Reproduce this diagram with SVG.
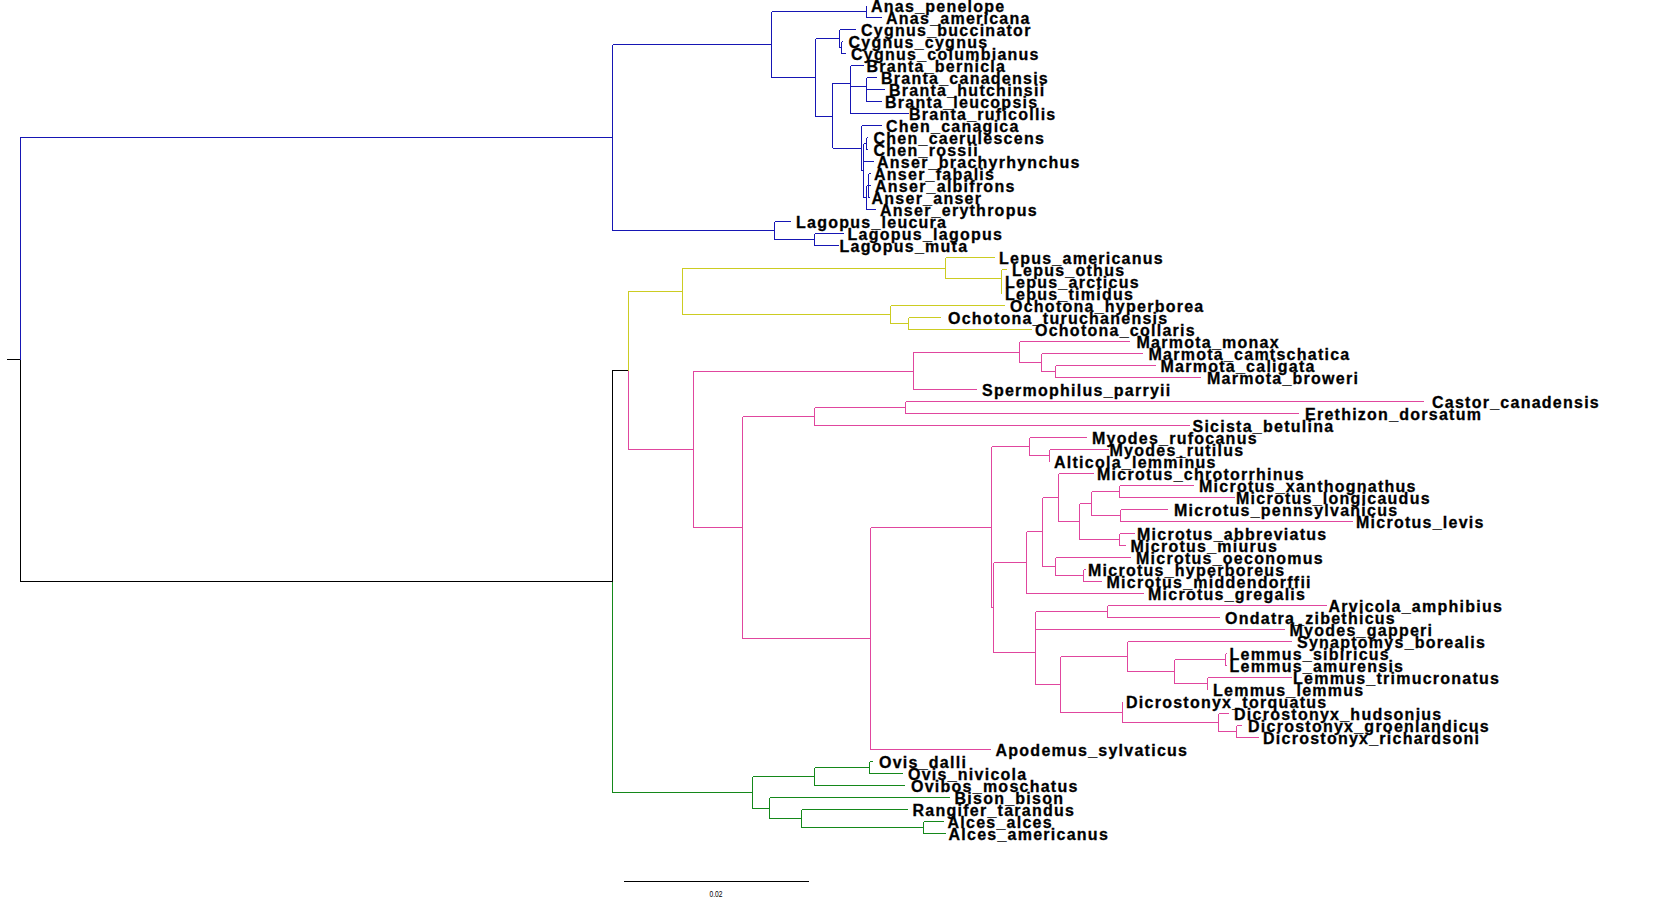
<svg xmlns="http://www.w3.org/2000/svg" width="1678" height="898" viewBox="0 0 1678 898">
<style>
  .edge{fill:none;stroke-width:1;shape-rendering:crispEdges}
  .blk{stroke:#000}
  .blu{stroke:#1616b4}
  .yel{stroke:#cccc22}
  .pnk{stroke:#e0469e}
  .grn{stroke:#14881a}
  .tip text{font-family:"Liberation Sans",Arial,sans-serif;font-weight:bold;font-size:16px;letter-spacing:1.25px;fill:#000;stroke:#000;stroke-width:0.3px}
  .scale text{font-family:"Liberation Sans",Arial,sans-serif;font-size:9px;fill:#000}
</style>
<rect width="1678" height="898" fill="#fff"/>
<g id="connectors">
  <path class="edge blk" d="M6.5 359.5 H20.5 M20.5 359.5 V581.5 H612.5 M612.5 581.5 V370.5 H628.5"/>
  <!-- birds -->
  <path class="edge blu" d="M20.5 359.5 V137.5 H612.5 M612.5 44.5 V230.5
    M612.5 44.5 H771.5 M771.5 11.5 V77.5
    M771.5 11.5 H866.5 M866.5 5.5 V17.5 H881.5
    M771.5 77.5 H815.5 M815.5 38.5 V116.5
    M815.5 38.5 H839.5 M839.5 29.5 V47.5 M839.5 29.5 H856
    M839.5 47.5 H841.5 M841.5 41.5 V53.5 M841.5 41.5 H843 M841.5 53.5 H845.5
    M815.5 116.5 H832.5 M832.5 83 V148
    M832.5 83 H850.5 M850.5 65.5 V113.5 M850.5 65.5 H863.5 M850.5 86.5 H866.5 M850.5 113.5 H908.5
    M866.5 77.5 V101.5 M866.5 77.5 H876.5 M866.5 89.5 H885 M866.5 101.5 H881.5
    M832.5 148 H861.5 M861.5 125.5 V170.5 M861.5 125.5 H881.5
    M861.5 170.5 H863.5 M863.5 143.5 V197.5 M863.5 143.5 H866.5 M866.5 137.5 V149.5 M866.5 137.5 H868 M866.5 149.5 H868
    M863.5 161.5 H873.5 M863.5 197.5 H866.5 M866.5 185.5 V209.5 M866.5 209.5 H876
    M866.5 185.5 H868.5 M868.5 173.5 V197.5 M868.5 173.5 H871 M868.5 185.5 H871 M868.5 197.5 H870
    M612.5 230.5 H774.5 M774.5 221.5 V239.5 M774.5 221.5 H790.5
    M774.5 239.5 H814.5 M814.5 233.5 V245.5 M814.5 233.5 H843.5 M814.5 245.5 H838.5"/>
  <!-- lagomorphs -->
  <path class="edge yel" d="M628.5 370.5 V291.5 H682.5 M682.5 268 V314.5
    M682.5 268 H945.5 M945.5 257.5 V278.5 M945.5 257.5 H994.5 M945.5 278.5 H1001.5
    M1001.5 269.5 V293.5 M1001.5 269.5 H1006.5
    M682.5 314.5 H890.5 M890.5 305.5 V323.5 M890.5 305.5 H1004.5 M890.5 323.5 H908.5
    M908.5 317.5 V329.5 M908.5 317.5 H941 M908.5 329.5 H1032"/>
  <!-- rodents -->
  <path class="edge pnk" d="M628.5 370.5 V449 H693.5 M693.5 371 V527.5
    M693.5 371 H913.5 M913.5 352 V389.5 M913.5 389.5 H976.5
    M913.5 352 H1019.5 M1019.5 341.5 V362.5 M1019.5 341.5 H1129.5
    M1019.5 362.5 H1041.5 M1041.5 353.5 V371.5 M1041.5 353.5 H1142.5
    M1041.5 371.5 H1055.5 M1055.5 365.5 V377.5 M1055.5 365.5 H1155.5 M1055.5 377.5 H1201
    M693.5 527.5 H742.5 M742.5 416.5 V638.5
    M742.5 416.5 H814.5 M814.5 407.5 V425.5 M814.5 425.5 H1190
    M814.5 407.5 H905.5 M905.5 401.5 V413.5 M905.5 401.5 H1423.5 M905.5 413.5 H1299
    M742.5 638.5 H870.5 M870.5 527.5 V749.5 M870.5 749.5 H990.5
    M870.5 527.5 H991.5 M991.5 446.5 V607.5
    M991.5 446.5 H1029.5 M1029.5 437.5 V455.5 M1029.5 437.5 H1086.5
    M1029.5 455.5 H1049.5 M1049.5 449.5 V461.5 M1049.5 449.5 H1109
    M991.5 607.5 H993.5 M993.5 562.5 V652.5
    M993.5 562.5 H1026.5 M1026.5 531.5 V593.5 M1026.5 593.5 H1144
    M1026.5 531.5 H1042.5 M1042.5 497.5 V566.5
    M1042.5 497.5 H1058.5 M1058.5 473.5 V521.5 M1058.5 473.5 H1094
    M1058.5 521.5 H1079.5 M1079.5 503.5 V539.5
    M1079.5 503.5 H1091.5 M1091.5 491.5 V515.5
    M1091.5 491.5 H1119.5 M1119.5 485.5 V497.5 M1119.5 485.5 H1194 M1119.5 497.5 H1234.5
    M1091.5 515.5 H1120.5 M1120.5 509.5 V521.5 M1120.5 509.5 H1168 M1120.5 521.5 H1353
    M1079.5 539.5 H1119.5 M1119.5 533.5 V545.5 M1119.5 533.5 H1135 M1119.5 545.5 H1125.5
    M1042.5 566.5 H1055.5 M1055.5 557.5 V575.5 M1055.5 557.5 H1131
    M1055.5 575.5 H1083.5 M1083.5 569.5 V581.5 M1083.5 569.5 H1086 M1083.5 581.5 H1101.5
    M993.5 652.5 H1035.5 M1035.5 611.5 V684.5
    M1035.5 611.5 H1107.5 M1107.5 605.5 V617.5 M1107.5 605.5 H1327 M1107.5 617.5 H1220
    M1035.5 629.5 H1284.5
    M1035.5 684.5 H1060.5 M1060.5 656.5 V712.5
    M1060.5 656.5 H1127.5 M1127.5 641.5 V671.5 M1127.5 641.5 H1292
    M1127.5 671.5 H1174.5 M1174.5 659.5 V683.5
    M1174.5 659.5 H1225.5 M1225.5 653.5 V665.5 M1225.5 653.5 H1227 M1225.5 665.5 H1227
    M1174.5 683.5 H1207.5 M1207.5 677.5 V689.5 M1207.5 677.5 H1292
    M1060.5 712.5 H1122.5 M1122.5 701.5 V722.5
    M1122.5 722.5 H1218.5 M1218.5 713.5 V731.5 M1218.5 713.5 H1229
    M1218.5 731.5 H1236.5 M1236.5 725.5 V737.5 M1236.5 725.5 H1242 M1236.5 737.5 H1258.5"/>
  <!-- ungulates -->
  <path class="edge grn" d="M612.5 581.5 V792.5 H752.5 M752.5 776.5 V808.5
    M752.5 776.5 H814.5 M814.5 767.5 V785.5 M814.5 785.5 H905
    M814.5 767.5 H869.5 M869.5 761.5 V773.5 M869.5 761.5 H873 M869.5 773.5 H903
    M752.5 808.5 H769.5 M769.5 797.5 V818.5 M769.5 797.5 H949.5
    M769.5 818.5 H801.5 M801.5 809.5 V827.5 M801.5 809.5 H908
    M801.5 827.5 H923.5 M923.5 821.5 V833.5 M923.5 821.5 H943.5 M923.5 833.5 H946"/>
</g>
<g class="tip">
  <g id="anas-penelope"><text x="871" y="12">Anas_penelope</text></g>
  <g id="anas-americana"><text x="886" y="24">Anas_americana</text></g>
  <g id="cygnus-buccinator"><text x="861" y="36">Cygnus_buccinator</text></g>
  <g id="cygnus-cygnus"><text x="848.5" y="48">Cygnus_cygnus</text></g>
  <g id="cygnus-columbianus"><text x="851" y="60">Cygnus_columbianus</text></g>
  <g id="branta-bernicla"><text x="866.5" y="72">Branta_bernicla</text></g>
  <g id="branta-canadensis"><text x="881" y="84">Branta_canadensis</text></g>
  <g id="branta-hutchinsii"><text x="889" y="96">Branta_hutchinsii</text></g>
  <g id="branta-leucopsis"><text x="885" y="108">Branta_leucopsis</text></g>
  <g id="branta-ruficollis"><text x="909" y="120">Branta_ruficollis</text></g>
  <g id="chen-canagica"><text x="886" y="132">Chen_canagica</text></g>
  <g id="chen-caerulescens"><text x="873.5" y="144">Chen_caerulescens</text></g>
  <g id="chen-rossii"><text x="873.5" y="156">Chen_rossii</text></g>
  <g id="anser-brachyrhynchus"><text x="877" y="168">Anser_brachyrhynchus</text></g>
  <g id="anser-fabalis"><text x="874" y="180">Anser_fabalis</text></g>
  <g id="anser-albifrons"><text x="875" y="192">Anser_albifrons</text></g>
  <g id="anser-anser"><text x="871.5" y="204">Anser_anser</text></g>
  <g id="anser-erythropus"><text x="880" y="216">Anser_erythropus</text></g>
  <g id="lagopus-leucura"><text x="796" y="228">Lagopus_leucura</text></g>
  <g id="lagopus-lagopus"><text x="847.5" y="240">Lagopus_lagopus</text></g>
  <g id="lagopus-muta"><text x="839.5" y="252">Lagopus_muta</text></g>
  <g id="lepus-americanus"><text x="999" y="264">Lepus_americanus</text></g>
  <g id="lepus-othus"><text x="1012" y="276">Lepus_othus</text></g>
  <g id="lepus-arcticus"><text x="1005" y="288">Lepus_arcticus</text></g>
  <g id="lepus-timidus"><text x="1005" y="300">Lepus_timidus</text></g>
  <g id="ochotona-hyperborea"><text x="1010" y="312">Ochotona_hyperborea</text></g>
  <g id="ochotona-turuchanensis"><text x="948" y="324">Ochotona_turuchanensis</text></g>
  <g id="ochotona-collaris"><text x="1035" y="336">Ochotona_collaris</text></g>
  <g id="marmota-monax"><text x="1136.5" y="348">Marmota_monax</text></g>
  <g id="marmota-camtschatica"><text x="1148.5" y="360">Marmota_camtschatica</text></g>
  <g id="marmota-caligata"><text x="1160.5" y="372">Marmota_caligata</text></g>
  <g id="marmota-broweri"><text x="1207" y="384">Marmota_broweri</text></g>
  <g id="spermophilus-parryii"><text x="982" y="396">Spermophilus_parryii</text></g>
  <g id="castor-canadensis"><text x="1432" y="408">Castor_canadensis</text></g>
  <g id="erethizon-dorsatum"><text x="1305" y="420">Erethizon_dorsatum</text></g>
  <g id="sicista-betulina"><text x="1192.5" y="432">Sicista_betulina</text></g>
  <g id="myodes-rufocanus"><text x="1092" y="444">Myodes_rufocanus</text></g>
  <g id="myodes-rutilus"><text x="1109.5" y="456">Myodes_rutilus</text></g>
  <g id="alticola-lemminus"><text x="1054" y="468">Alticola_lemminus</text></g>
  <g id="microtus-chrotorrhinus"><text x="1097" y="480">Microtus_chrotorrhinus</text></g>
  <g id="microtus-xanthognathus"><text x="1199" y="492">Microtus_xanthognathus</text></g>
  <g id="microtus-longicaudus"><text x="1236" y="504">Microtus_longicaudus</text></g>
  <g id="microtus-pennsylvanicus"><text x="1174" y="516">Microtus_pennsylvanicus</text></g>
  <g id="microtus-levis"><text x="1356" y="528">Microtus_levis</text></g>
  <g id="microtus-abbreviatus"><text x="1137" y="540">Microtus_abbreviatus</text></g>
  <g id="microtus-miurus"><text x="1130.5" y="552">Microtus_miurus</text></g>
  <g id="microtus-oeconomus"><text x="1136" y="564">Microtus_oeconomus</text></g>
  <g id="microtus-hyperboreus"><text x="1088" y="576">Microtus_hyperboreus</text></g>
  <g id="microtus-middendorffii"><text x="1106.5" y="588">Microtus_middendorffii</text></g>
  <g id="microtus-gregalis"><text x="1148" y="600">Microtus_gregalis</text></g>
  <g id="arvicola-amphibius"><text x="1328.5" y="612">Arvicola_amphibius</text></g>
  <g id="ondatra-zibethicus"><text x="1225" y="624">Ondatra_zibethicus</text></g>
  <g id="myodes-gapperi"><text x="1289.5" y="636">Myodes_gapperi</text></g>
  <g id="synaptomys-borealis"><text x="1297" y="648">Synaptomys_borealis</text></g>
  <g id="lemmus-sibiricus"><text x="1229.5" y="660">Lemmus_sibiricus</text></g>
  <g id="lemmus-amurensis"><text x="1229.5" y="672">Lemmus_amurensis</text></g>
  <g id="lemmus-trimucronatus"><text x="1293" y="684">Lemmus_trimucronatus</text></g>
  <g id="lemmus-lemmus"><text x="1213" y="696">Lemmus_lemmus</text></g>
  <g id="dicrostonyx-torquatus"><text x="1126" y="708">Dicrostonyx_torquatus</text></g>
  <g id="dicrostonyx-hudsonius"><text x="1234" y="720">Dicrostonyx_hudsonius</text></g>
  <g id="dicrostonyx-groenlandicus"><text x="1248" y="732">Dicrostonyx_groenlandicus</text></g>
  <g id="dicrostonyx-richardsoni"><text x="1263" y="744">Dicrostonyx_richardsoni</text></g>
  <g id="apodemus-sylvaticus"><text x="995.5" y="756">Apodemus_sylvaticus</text></g>
  <g id="ovis-dalli"><text x="879" y="768">Ovis_dalli</text></g>
  <g id="ovis-nivicola"><text x="908" y="780">Ovis_nivicola</text></g>
  <g id="ovibos-moschatus"><text x="911" y="792">Ovibos_moschatus</text></g>
  <g id="bison-bison"><text x="954.5" y="804">Bison_bison</text></g>
  <g id="rangifer-tarandus"><text x="912.5" y="816">Rangifer_tarandus</text></g>
  <g id="alces-alces"><text x="947.5" y="828">Alces_alces</text></g>
  <g id="alces-americanus"><text x="948.5" y="840">Alces_americanus</text></g>
</g>
<g id="scale-bar" class="scale">
  <path class="edge blk" d="M623.5 881.5 H809"/>
  <text x="709.5" y="896.5" textLength="13" lengthAdjust="spacingAndGlyphs">0.02</text>
</g>
</svg>
